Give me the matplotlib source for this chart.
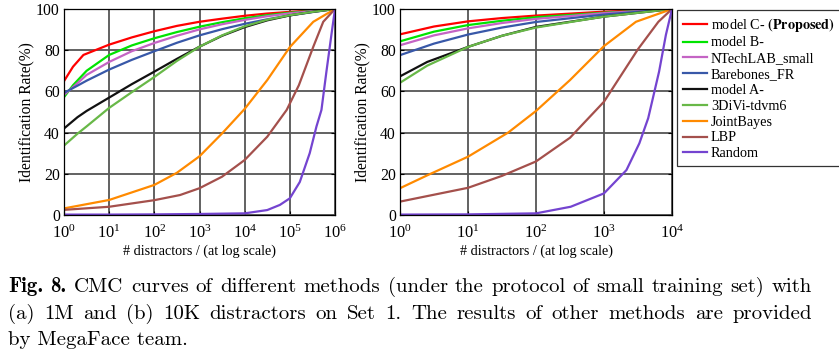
import matplotlib
matplotlib.use('Agg')
import matplotlib.pyplot as plt
import numpy as np
from matplotlib.ticker import FixedLocator, NullLocator, LogFormatterMathtext

plt.rcParams['font.family'] = ['Liberation Serif', 'DejaVu Serif']
plt.rcParams['mathtext.fontset'] = 'stix'

# ---------------- data (x given as log10 of # distractors) ----------------
method_labels = ['model C- $\\mathbf{(Proposed)}$', 'model B-', 'NTechLAB_small',
                 'Barebones_FR', 'model A-', '3DiVi-tdvm6', 'JointBayes', 'LBP', 'Random']
method_colors = ['#ff0000', '#00e400', '#c464c4', '#3858a8', '#111111',
                 '#68b848', '#ff8a00', '#a4504c', '#7444d0']

# (a) 1M distractors
a_modelC_x = [0, 0.2, 0.43, 1, 1.5, 2, 2.5, 3, 3.5, 4, 4.5, 5, 5.5, 6]
a_modelC_y = [65, 72, 77.7, 82.7, 86.2, 89.2, 91.8, 93.8, 95.3, 96.7, 97.8, 98.6, 99.3, 100]
a_modelB_x = [0, 0.2, 0.5, 1, 1.5, 2, 2.5, 3, 3.5, 4, 4.5, 5, 5.5, 6]
a_modelB_y = [57.2, 63, 70, 77.7, 82.3, 85.8, 88.8, 91.4, 93.6, 95.5, 97, 98.2, 99.1, 100]
a_ntech_x = [0, 0.3, 0.5, 1, 1.5, 2, 2.5, 3, 3.5, 4, 4.5, 5, 5.5, 6]
a_ntech_y = [58.3, 64, 68, 74.3, 79.5, 83.5, 87, 90.1, 92.6, 94.7, 96.5, 97.9, 99, 100]
a_bare_x = [0, 0.3, 0.5, 1, 1.5, 2, 2.5, 3, 3.5, 4, 4.5, 5, 5.5, 6]
a_bare_y = [59.3, 62.8, 65.2, 70.6, 75.3, 79.5, 83.6, 87.2, 90.2, 92.8, 95, 96.9, 98.5, 100]
a_modelA_x = [0, 0.3, 0.5, 1, 1.5, 2, 2.5, 3, 3.5, 4, 4.5, 5, 5.5, 6]
a_modelA_y = [42, 47.5, 50.5, 57, 63.5, 69.6, 75.8, 81.7, 87, 91.2, 94.5, 96.9, 98.6, 100]
a_3divi_x = [0, 0.3, 0.5, 1, 1.5, 2, 2.5, 3, 3.5, 4, 4.5, 5, 5.5, 6]
a_3divi_y = [33.7, 39.5, 43, 52, 59.6, 67, 74.8, 81.7, 87.2, 91.6, 94.8, 97, 98.6, 100]
a_joint_x = [0, 1, 2, 2.5, 3, 3.5, 4, 4.5, 5, 5.52, 6]
a_joint_y = [3.2, 7.3, 14.6, 20.5, 28.5, 39.6, 51.5, 65.5, 81.5, 93.8, 100]
a_lbp_x = [0, 1, 2, 2.57, 3, 3.5, 4, 4.5, 4.93, 5.2, 5.52, 5.74, 6]
a_lbp_y = [2.5, 4, 7.2, 9.7, 13, 18.6, 26.7, 38, 51, 63, 81.7, 93.8, 100]
a_random_x = [0, 1, 2, 3, 4, 4.5, 4.78, 5, 5.22, 5.44, 5.59, 5.7, 5.81, 5.93, 6]
a_random_y = [0.2, 0.2, 0.3, 0.5, 0.8, 2.4, 4.9, 8.1, 16, 30, 43, 51, 69.6, 89, 100]

# (b) 10K distractors
b_modelC_x = [0, 0.5, 1, 1.5, 2, 3, 4]
b_modelC_y = [87.7, 91.5, 94, 95.6, 96.8, 98.7, 100]
b_modelB_x = [0, 0.5, 1, 1.5, 2, 3, 4]
b_modelB_y = [84.3, 89, 92.2, 94.3, 96, 98.2, 100]
b_ntech_x = [0, 0.5, 1, 1.5, 2, 3, 4]
b_ntech_y = [82.4, 87.2, 90.6, 93.2, 95.2, 98, 100]
b_bare_x = [0, 0.5, 1, 1.5, 2, 3, 4]
b_bare_y = [77.6, 83.2, 87.6, 91, 93.7, 97.3, 100]
b_modelA_x = [0, 0.4, 1, 1.5, 2, 3, 4]
b_modelA_y = [67.3, 74.3, 81.6, 87, 91.3, 96.3, 100]
b_3divi_x = [0, 0.4, 1, 1.5, 2, 3, 4]
b_3divi_y = [64.2, 72.5, 81.6, 87, 91, 96.3, 100]
b_joint_x = [0, 0.41, 1, 1.59, 2, 2.5, 3, 3.47, 4]
b_joint_y = [13, 19.4, 28.3, 40, 50.5, 65.5, 82, 93.8, 100]
b_lbp_x = [0, 1, 1.5, 2, 2.5, 3, 3.5, 3.8, 4]
b_lbp_y = [6.5, 13.2, 19, 26, 37.5, 55, 80.5, 93.8, 100]
b_random_x = [0, 1, 2, 2.51, 3, 3.33, 3.52, 3.65, 3.81, 3.91, 4]
b_random_y = [0.2, 0.3, 0.8, 4, 10.5, 21.8, 34.8, 47, 69.6, 87.4, 100]

panel_a = [(a_modelC_x, a_modelC_y), (a_modelB_x, a_modelB_y), (a_ntech_x, a_ntech_y),
           (a_bare_x, a_bare_y), (a_modelA_x, a_modelA_y), (a_3divi_x, a_3divi_y),
           (a_joint_x, a_joint_y), (a_lbp_x, a_lbp_y), (a_random_x, a_random_y)]
panel_b = [(b_modelC_x, b_modelC_y), (b_modelB_x, b_modelB_y), (b_ntech_x, b_ntech_y),
           (b_bare_x, b_bare_y), (b_modelA_x, b_modelA_y), (b_3divi_x, b_3divi_y),
           (b_joint_x, b_joint_y), (b_lbp_x, b_lbp_y), (b_random_x, b_random_y)]

x_label = '# distractors / (at log scale)'
y_label = 'Identification Rate(%)'
y_ticks = [0, 20, 40, 60, 80, 100]

caption_line1 = [('Fig.', True), ('8.', True), ('CMC', False), ('curves', False), ('of', False),
                 ('different', False), ('methods', False), ('(under', False), ('the', False),
                 ('protocol', False), ('of', False), ('small', False), ('training', False),
                 ('set)', False), ('with', False)]
caption_line2 = '(a) 1M and (b) 10K distractors on Set 1. The results of other methods are provided'
caption_line3 = 'by MegaFace team.'

# ---------------- figure ----------------
W, H = 839, 353
fig = plt.figure(figsize=(W / 100, H / 100), dpi=100)


def px_axes(x0, x1, ytop, ybot):
    return fig.add_axes([x0 / W, 1 - ybot / H, (x1 - x0) / W, (ybot - ytop) / H])


axA = px_axes(64, 335, 9, 215)
axB = px_axes(400, 672, 9, 215)

handles = []
for ax, panel, max_exp in [(axA, panel_a, 6), (axB, panel_b, 4)]:
    for (xs, ys), c, lab in zip(panel, method_colors, method_labels):
        h, = ax.plot(10 ** np.asarray(xs, dtype=float), ys, color=c, lw=1.6,
                     label=lab, solid_joinstyle='round')
        if ax is axA:
            handles.append(h)
    ax.set_xscale('log')
    ax.set_xlim(1, 10 ** max_exp)
    ax.set_ylim(0, 100)
    ax.xaxis.set_major_locator(FixedLocator([10 ** i for i in range(max_exp + 1)]))
    ax.xaxis.set_minor_locator(NullLocator())
    ax.xaxis.set_major_formatter(LogFormatterMathtext())
    ax.set_yticks(y_ticks)
    ax.grid(True, color='#555555', lw=1.3)
    ax.set_axisbelow(True)
    for s in ax.spines.values():
        s.set_color('black')
        s.set_linewidth(0.9)
    ax.tick_params(direction='in', length=3, labelsize=11.3, pad=3, right=True,
                   colors='black')
    ax.tick_params(axis='x', labelsize=11.8, pad=7)
    ax.set_xlabel(x_label, fontsize=10.2, labelpad=2)
    ax.set_ylabel(y_label, fontsize=11.2, labelpad=1)

leg = fig.legend(handles=handles, loc='upper left',
                 bbox_to_anchor=(677 / W, 1 - 10 / H), fontsize=10.2,
                 frameon=True, fancybox=False, edgecolor='black',
                 handlelength=1.7, handletextpad=0.3, labelspacing=0.2,
                 borderpad=0.4, borderaxespad=0)
leg.get_frame().set_linewidth(0.9)

# ---------------- caption (justified) ----------------
fig.canvas.draw()
renderer = fig.canvas.get_renderer()
left_px, right_px = 8, 812

# choose a font size so that the first caption line fills the width naturally
probe = fig.text(0, 0, ' '.join(w for w, _ in caption_line1), fontfamily='cmr10',
                 fontsize=13, transform=None)
natural = probe.get_window_extent(renderer).width
probe.remove()
cap_fs = 13 * (right_px - left_px - 4) / natural


def justified(words, y_top_px):
    y = H - y_top_px
    texts = []
    for w, bold in words:
        t = fig.text(0, y, w, fontfamily='cmb10' if bold else 'cmr10', fontsize=cap_fs,
                     va='baseline', ha='left', transform=None)
        texts.append(t)
    widths = [t.get_window_extent(renderer).width for t in texts]
    gap = (right_px - left_px - sum(widths)) / (len(texts) - 1)
    x = left_px
    for t, wd in zip(texts, widths):
        t.set_x(x)
        x += wd + gap


justified(caption_line1, 292)
justified([(w, False) for w in caption_line2.split(' ')], 319)
fig.text(left_px, H - 345, caption_line3, fontfamily='cmr10', fontsize=cap_fs,
         va='baseline', ha='left', transform=None)

fig.savefig('out.png', dpi=100)
